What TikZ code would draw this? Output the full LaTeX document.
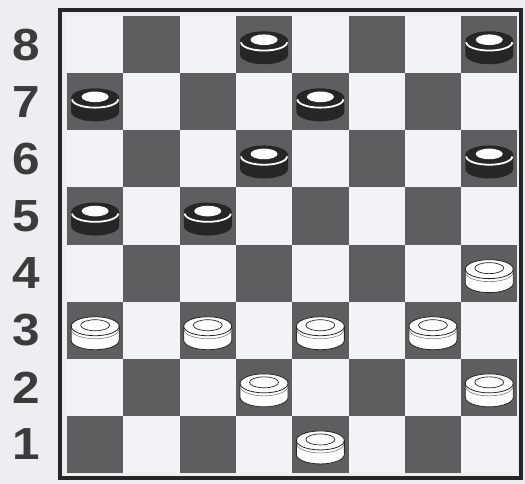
\documentclass[tikz,border=0pt]{standalone}
\usepackage{fontspec}
\setmainfont{Liberation Sans}
\definecolor{paper}{HTML}{ECEEF2}
\definecolor{lightsq}{HTML}{F2F3F6}
\definecolor{darksq}{HTML}{5E5E60}
\definecolor{ink}{HTML}{262626}

\tikzset{
  rank/.style={font=\fontsize{45}{46}\selectfont\bfseries,text=ink!90,inner sep=0pt,xscale=1.1},
  % black piece
  blackman/.pic={
    \fill[ink] (-24,4) -- (-24,-10) arc (180:360:24 and 9.5) -- (24,4) arc (0:180:24 and 9.5) -- cycle;
    \draw[white,line width=1.8pt] (-23,2.5) arc (180:360:23 and 8.3);
    \fill[white] (0,5) ellipse (13.5 and 5.3);
  },
  % white piece
  whiteman/.pic={
    \filldraw[fill=white,draw=ink,line width=0.8pt] (-24,4) -- (-24,-10) arc (180:360:24 and 9.5) -- (24,4) arc (0:180:24 and 9.5) -- cycle;
    \draw[ink,line width=0.8pt] (-24,4) arc (180:360:24 and 9.5);
    \draw[ink!60,line width=0.6pt] (-23.5,0.5) arc (180:360:23.5 and 9);
    \draw[ink,line width=0.7pt] (0,5) ellipse (14.5 and 5.5);
  }
}

\begin{document}
\begin{tikzpicture}[x=1pt,y=1pt]
  \def\S{56.3}
  \def\T{57.1}
  \def\X{67}
  \def\Y{11}

  \fill[paper] (0,0) rectangle (525,484);
  \useasboundingbox (0,0) rectangle (525,484);

  % ================= squares =================
  \fill[lightsq] (\X,\Y) rectangle (\X+8*\S,\Y+8*\T);
  \foreach \c in {1,...,8} {
    \foreach \r in {1,...,8} {
      \pgfmathparse{int(mod(\c+\r,2))}
      \ifnum\pgfmathresult=0
        \fill[darksq] (\X+\c*\S-\S,\Y+\r*\T-\T) rectangle (\X+\c*\S,\Y+\r*\T);
      \fi
    }
  }

  % ================= frame =================
  \draw[ink,line width=3.5pt] (60,6) rectangle (521,474);

  % ================= rank numbers =================
  \foreach \r in {1,...,8} {
    \node[rank] (rank\r) at (26,\Y+\r*\T-0.5*\T) {\r};
  }

  % ================= black pieces =================
  \foreach \c/\r in {4/8,8/8,1/7,5/7,4/6,8/6,1/5,3/5} {
    \pic at (\X+\c*\S-0.5*\S,\Y+\r*\T-0.5*\T) {blackman};
  }

  % ================= white pieces =================
  \foreach \c/\r in {8/4,1/3,3/3,5/3,7/3,4/2,8/2,5/1} {
    \pic at (\X+\c*\S-0.5*\S,\Y+\r*\T-0.5*\T) {whiteman};
  }

\end{tikzpicture}
\end{document}
